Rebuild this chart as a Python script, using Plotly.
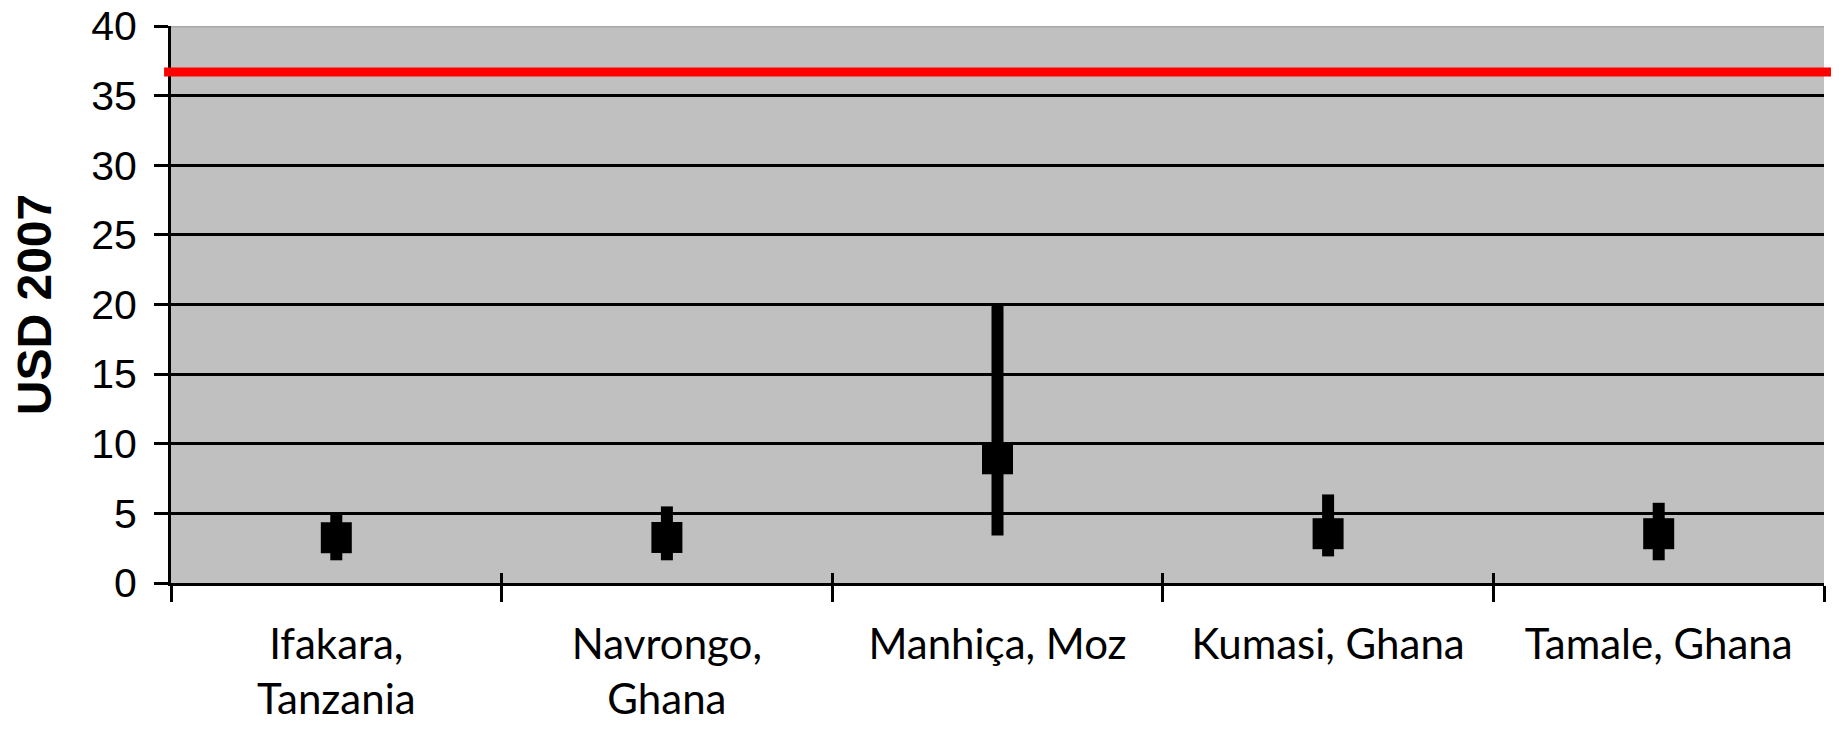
import plotly.graph_objects as go

sites = ["Ifakara,<br>Tanzania", "Navrongo,<br>Ghana", "Manhiça, Moz", "Kumasi, Ghana", "Tamale, Ghana"]
cost_mean = [3.25, 3.27, 8.92, 3.54, 3.54]
cost_upper = [4.9, 5.5, 20.0, 6.36, 5.76]
cost_lower = [1.63, 1.63, 3.42, 1.91, 1.63]
threshold = 36.7
y_ticks = [0, 5, 10, 15, 20, 25, 30, 35, 40]

err_plus = [u - m for u, m in zip(cost_upper, cost_mean)]
err_minus = [m - l for m, l in zip(cost_mean, cost_lower)]

fig = go.Figure()
fig.add_trace(go.Scatter(
    x=sites, y=cost_mean, mode="markers",
    marker=dict(symbol="square", size=31, color="black"),
    error_y=dict(type="data", symmetric=False, array=err_plus, arrayminus=err_minus,
                 thickness=12, width=0, color="black"),
    showlegend=False, hoverinfo="skip",
))
# invisible companion trace to carry the inside half of the crossing x ticks
fig.add_trace(go.Scatter(
    x=sites, y=cost_mean, mode="markers", xaxis="x2",
    marker=dict(opacity=0), showlegend=False, hoverinfo="skip",
))

fig.add_shape(type="line", xref="paper", yref="y", x0=-0.0042, x1=1.0045,
              y0=threshold, y1=threshold, line=dict(color="#FF0000", width=9), layer="above")
fig.add_shape(type="line", xref="paper", yref="y", x0=0, x1=1,
              y0=40, y1=40, line=dict(color="#A6A6A6", width=3), layer="above")

fig.update_layout(
    width=1823, height=716,
    margin=dict(l=163, r=7, t=18, b=141),
    paper_bgcolor="white", plot_bgcolor="#C0C0C0",
    xaxis=dict(type="category", categoryarray=sites, range=[-0.5, 4.5],
               tickson="boundaries", ticks="outside", ticklen=16, tickwidth=3, tickcolor="black",
               showline=True, linecolor="black", linewidth=3, showgrid=False,
               ticklabelstandoff=23,
               tickfont=dict(family="Lato", size=42, color="black"), automargin=False),
    xaxis2=dict(type="category", categoryarray=sites, range=[-0.5, 4.5], overlaying="x",
                anchor="y", side="bottom", tickson="boundaries", ticks="inside", ticklen=10,
                tickwidth=3, tickcolor="black", showticklabels=False, showgrid=False,
                showline=False, automargin=False),
    yaxis=dict(range=[0, 40], tickvals=y_ticks, ticks="outside", ticklen=14, tickwidth=3,
               tickcolor="black", showline=True, linecolor="black", linewidth=3,
               showgrid=True, gridcolor="black", gridwidth=3, zeroline=False,
               ticklabelstandoff=9, ticklabeloverflow="allow",
               tickfont=dict(family="Liberation Sans", size=41, color="black"),
               title=dict(text="<b>USD 2007</b>", standoff=34,
                          font=dict(family="Liberation Sans", size=48, color="black")),
               automargin=False),
)

fig.write_html("out.html")
